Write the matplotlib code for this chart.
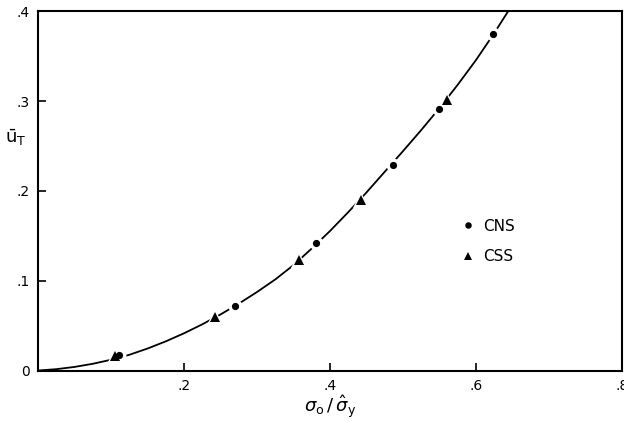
import matplotlib.pyplot as plt
import numpy as np

# curve
curve_x = [0.0, 0.025, 0.05, 0.075, 0.1, 0.125, 0.15, 0.175, 0.2, 0.225, 0.25, 0.275,
           0.3, 0.325, 0.35, 0.375, 0.4, 0.425, 0.45, 0.475, 0.5, 0.525, 0.55, 0.575,
           0.6, 0.625, 0.65]
curve_y = [0.0, 0.0015, 0.004, 0.0075, 0.012, 0.0175, 0.0245, 0.0325, 0.0415, 0.0515,
           0.0625, 0.0745, 0.0875, 0.1015, 0.1175, 0.136, 0.1555, 0.1765, 0.1985, 0.2215,
           0.2445, 0.268, 0.2925, 0.3185, 0.346, 0.376, 0.408]

# CNS (circles)
cns_x = [0.111, 0.270, 0.381, 0.486, 0.549, 0.623]
cns_y = [0.017, 0.072, 0.142, 0.229, 0.291, 0.375]

# CSS (triangles)
css_x = [0.106, 0.243, 0.358, 0.442, 0.560]
css_y = [0.016, 0.060, 0.123, 0.190, 0.301]

xticks = [0.2, 0.4, 0.6, 0.8]
xtick_labels = ['.2', '.4', '.6', '.8']
yticks = [0.0, 0.1, 0.2, 0.3, 0.4]
ytick_labels = ['0', '.1', '.2', '.3', '.4']

plt.rcParams['font.family'] = ['DejaVu Sans']
plt.rcParams['mathtext.fontset'] = 'dejavusans'

fig = plt.figure(figsize=(6.24, 4.22), dpi=100)
ax = fig.add_axes([0.061, 0.122, 0.936, 0.851])

ax.plot(curve_x, curve_y, color='black', linewidth=1.3, zorder=2)

# white halos break the curve around each symbol
ax.plot(cns_x, cns_y, linestyle='none', marker='o', markersize=10, color='white',
        markeredgewidth=0, zorder=2.5)
ax.plot(css_x, css_y, linestyle='none', marker='^', markersize=12, color='white',
        markeredgewidth=0, zorder=2.5)

ax.plot(cns_x, cns_y, linestyle='none', marker='o', markersize=5.2, color='black',
        markeredgewidth=0, label='CNS', zorder=3)
ax.plot(css_x, css_y, linestyle='none', marker='^', markersize=7, color='black',
        markeredgewidth=0, label='CSS', zorder=3)

ax.set_xlim(0, 0.8)
ax.set_ylim(0, 0.4)
ax.set_xticks(xticks)
ax.set_xticklabels(xtick_labels, fontsize=10)
ax.set_yticks(yticks)
ax.set_yticklabels(ytick_labels, fontsize=10)
ax.tick_params(direction='in', length=6, width=1.2, pad=6)

for s in ax.spines.values():
    s.set_linewidth(1.5)

ax.set_xlabel(r'$\sigma_{\mathrm{o}}\,/\,\hat{\sigma}_{\mathrm{y}}$', fontsize=13, labelpad=0)
ax.set_ylabel(r'$\bar{\mathrm{u}}_{\mathrm{T}}$', fontsize=13, rotation=0)
ax.yaxis.set_label_coords(-0.038, 0.62)

ax.legend(loc='center left', bbox_to_anchor=(0.70, 0.36), frameon=False,
          fontsize=11, handletextpad=0.5, labelspacing=1.0, handlelength=1.0,
          markerscale=0.9)

fig.savefig('out.png', dpi=100)
